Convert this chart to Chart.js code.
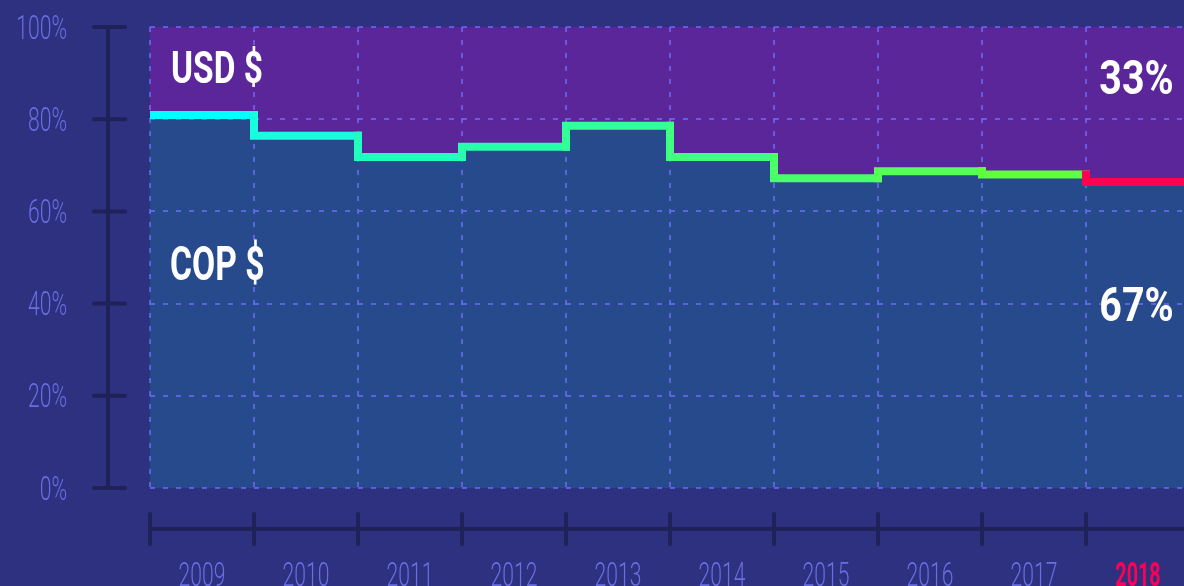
<!DOCTYPE html>
<html><head><meta charset="utf-8">
<script src="https://cdn.jsdelivr.net/npm/chart.js@4/dist/chart.umd.min.js"></script>
<style>
html,body{margin:0;padding:0;background:#2e3080;overflow:hidden;}
#wrap{width:1200px;height:586px;position:relative;}
</style></head>
<body><div id="wrap"><canvas id="c"></canvas></div>
<script>
const years = ['2009','2010','2011','2012','2013','2014','2015','2016','2017','2018'];
const copShare = [80.9, 76.4, 71.8, 74.0, 78.6, 71.8, 67.2, 68.7, 68.0, 66.4];
const yTickValues = [0, 20, 40, 60, 80, 100];
const lineColors = ['#00ffff','#18ffe0','#20ffc0','#28ffaa','#34ff96','#3eff82','#4bff66','#55ff55','#60ff40','#ff0055'];
const seriesLabels = ['USD $', 'COP $'];
const shareLabels = ['33%', '67%'];

const FONT = "Roboto,'Liberation Sans',sans-serif";
const BLUE = '#274a8c', PURPLE = '#5a2699', AXIS = '#1f2259', LABEL = '#6a6ee0', HILITE = '#ff0055';
const GRID = 'rgba(110,112,255,0.7)';

const pts = [{x: 0, y: copShare[0]}].concat(copShare.map((v, i) => ({x: i + 1, y: v})));

function condText(ctx, text, x, y, sx, align) {
  ctx.save();
  ctx.translate(x, y);
  ctx.scale(sx, 1);
  ctx.textAlign = align;
  ctx.fillText(text, 0, 0);
  ctx.restore();
}

const decoPlugin = {
  id: 'deco',
  afterDraw(chart) {
    const ctx = chart.ctx, ca = chart.chartArea;
    const ys = chart.scales.y, xs = chart.scales.xs;
    ctx.save();
    ctx.strokeStyle = AXIS; ctx.lineWidth = 4; ctx.lineCap = 'round';
    // y axis line and ticks
    const ax = ca.left - 42;
    ctx.beginPath();
    ctx.moveTo(ax, ys.getPixelForValue(100)); ctx.lineTo(ax, ys.getPixelForValue(0));
    yTickValues.forEach(v => { const p = ys.getPixelForValue(v); ctx.moveTo(ax - 14, p); ctx.lineTo(ax + 17, p); });
    ctx.stroke();
    // x axis line and ticks
    const ay = ca.bottom + 41;
    ctx.beginPath();
    ctx.lineCap = 'butt';
    ctx.moveTo(ca.left, ay); ctx.lineTo(chart.width, ay);
    ctx.stroke();
    ctx.lineCap = 'round';
    ctx.beginPath();
    for (let i = 0; i <= years.length; i++) { const p = xs.getPixelForValue(i); ctx.moveTo(p, ay - 15); ctx.lineTo(p, ay + 15); }
    ctx.stroke();

    // y tick labels
    ctx.textBaseline = 'alphabetic';
    ctx.fillStyle = LABEL;
    ctx.font = "300 33px " + FONT;
    yTickValues.forEach(v => condText(ctx, v + '%', ca.left - 83, ys.getPixelForValue(v) + 11.5, 0.64, 'right'));
    // x tick labels
    years.forEach((yr, i) => {
      const last = i === years.length - 1;
      ctx.fillStyle = last ? HILITE : LABEL;
      ctx.font = (last ? "bold " : "300 ") + "33px " + FONT;
      condText(ctx, yr, xs.getPixelForValue(i + 0.5), ca.bottom + 98, last ? 0.6 : 0.64, 'center');
    });
    ctx.restore();
  },
  afterDatasetsDraw(chart) {
    const ctx = chart.ctx, ca = chart.chartArea;
    const ys = chart.scales.y, xs = chart.scales.xs;
    ctx.save();
    ctx.fillStyle = '#ffffff';
    ctx.textBaseline = 'alphabetic';
    ctx.font = "bold 44px " + FONT;
    condText(ctx, seriesLabels[0], ca.left + 21, ys.getPixelForValue(87.85), 0.76, 'left');
    ctx.font = "bold 48px " + FONT;
    condText(ctx, seriesLabels[1], ca.left + 20, ys.getPixelForValue(45.1), 0.7, 'left');
    const cx = xs.getPixelForValue(years.length - 0.5) - 1.5;
    condText(ctx, shareLabels[0], cx, ys.getPixelForValue(85.5), 0.82, 'center');
    condText(ctx, shareLabels[1], cx, ys.getPixelForValue(36.3), 0.82, 'center');
    ctx.restore();
  }
};

new Chart(document.getElementById('c'), {
  type: 'line',
  data: {
    labels: years,
    datasets: [
      {
        label: 'COP',
        data: pts,
        xAxisID: 'xs',
        stepped: 'after',
        borderWidth: 8,
        borderCapStyle: 'square',
        borderJoinStyle: 'miter',
        segment: { borderColor: c => lineColors[c.p0DataIndex] },
        borderColor: lineColors[0],
        backgroundColor: BLUE,
        fill: 'origin',
        pointRadius: 0,
        clip: {left: 0, top: 10, right: 10, bottom: 10}
      },
      {
        label: 'USD',
        data: pts,
        xAxisID: 'xs',
        stepped: 'after',
        borderWidth: 0,
        borderColor: 'rgba(0,0,0,0)',
        backgroundColor: PURPLE,
        fill: 'end',
        pointRadius: 0
      }
    ]
  },
  options: {
    responsive: true,
    maintainAspectRatio: false,
    animation: false,
    events: [],
    layout: { padding: { top: 27, right: 10, left: 0, bottom: 0 } },
    plugins: {
      legend: { display: false },
      tooltip: { enabled: false },
      filler: { drawTime: 'beforeDraw' }
    },
    scales: {
      x: {
        type: 'category',
        offset: true,
        grid: { offset: true, color: GRID, lineWidth: 2, drawTicks: false },
        border: { display: false, dash: [5, 8] },
        ticks: { display: false },
        afterFit: s => { s.height = 98; s.paddingLeft = 0; s.paddingRight = 0; }
      },
      xs: {
        type: 'linear',
        display: false,
        min: 0,
        max: years.length
      },
      y: {
        min: 0,
        max: 100,
        afterBuildTicks: s => { s.ticks = yTickValues.map(v => ({ value: v })); },
        grid: { color: GRID, lineWidth: 2, drawTicks: false },
        border: { display: false, dash: [5, 8] },
        ticks: { display: false },
        afterFit: s => { s.width = 150; s.paddingTop = 0; s.paddingBottom = 0; }
      }
    }
  },
  plugins: [decoPlugin]
});
</script>
</body></html>
